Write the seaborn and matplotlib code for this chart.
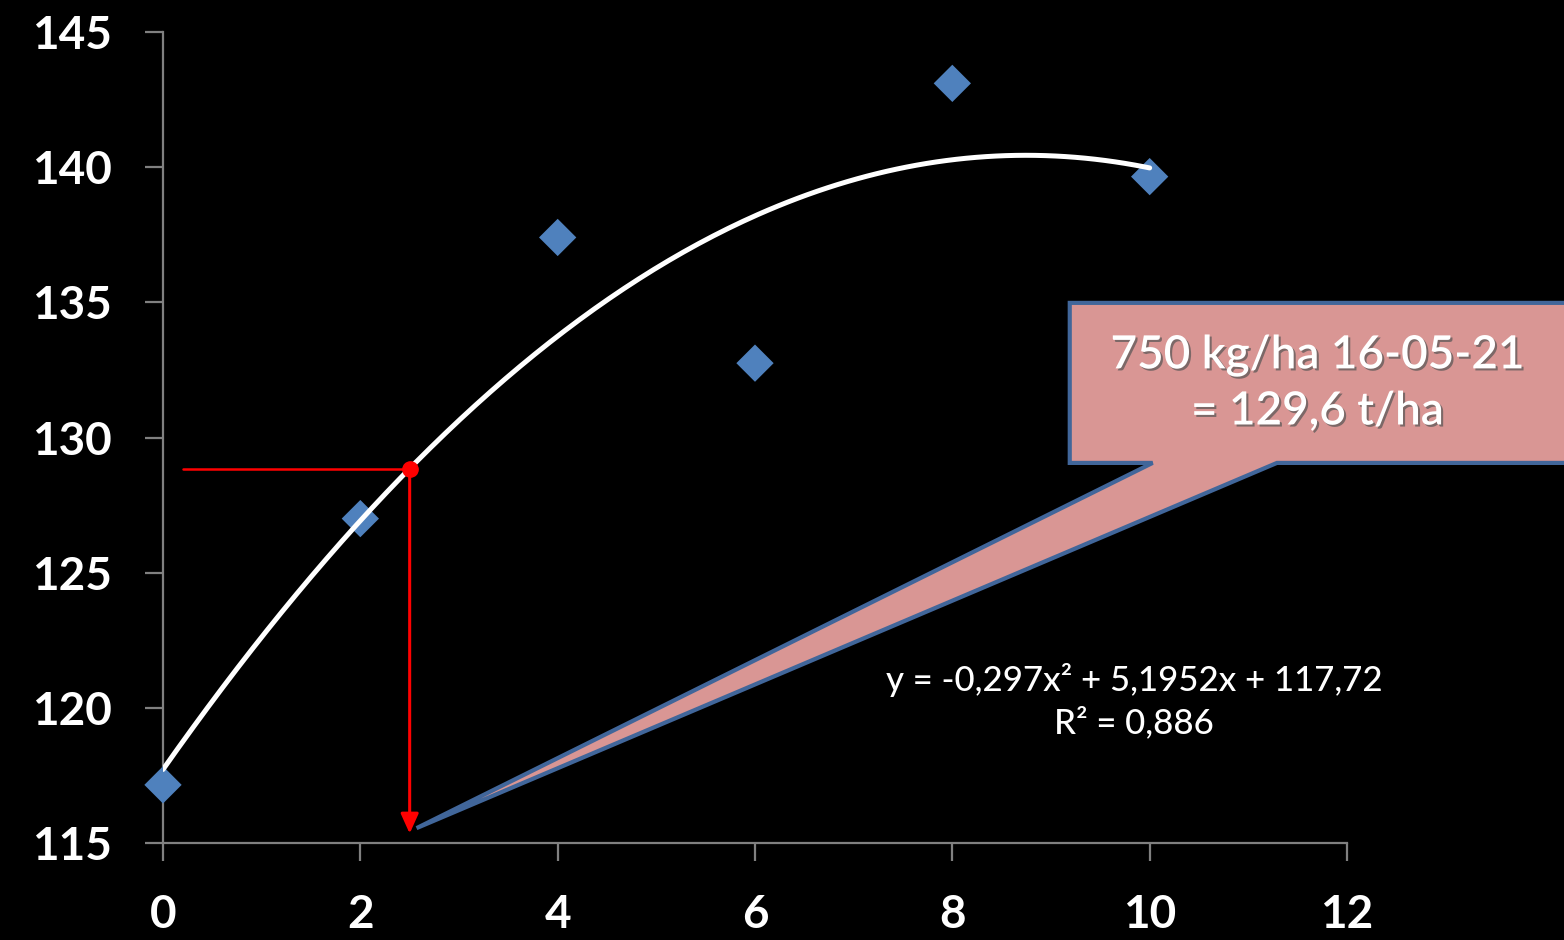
import numpy as np
import pandas as pd
import matplotlib
matplotlib.use('Agg')
import matplotlib.pyplot as plt
import matplotlib.patheffects as pe
from matplotlib.patches import Polygon
import seaborn as sns

# ---------------------
# Dados
# ---------------------
dose = [0, 2, 4, 6, 8, 10]
produtividade = [117.15, 127.0, 137.4, 132.75, 143.1, 139.65]

# coeficientes da linha de tendência (como mostrados no gráfico)
coef = [-0.297, 5.1952, 117.72]
r2 = 0.886
dose_lida = 2.5

x_ticks = [0, 2, 4, 6, 8, 10, 12]
y_ticks = [115, 120, 125, 130, 135, 140, 145]

texto_eq = 'y = -0,297x² + 5,1952x + 117,72\nR² = 0,886'
texto_caixa = '750 kg/ha 16-05-21\n= 129,6 t/ha'

df = pd.DataFrame({'dose': dose, 'prod': produtividade})
x_curva = np.linspace(min(dose), max(dose), 200)
df_curva = pd.DataFrame({'dose': x_curva, 'prod': np.polyval(coef, x_curva)})
y_lida = np.polyval(coef, dose_lida)

# ---------------------
# Estilo
# ---------------------
sns.set_theme(style='dark', rc={
    'figure.facecolor': 'black',
    'axes.facecolor': 'black',
    'axes.edgecolor': '#808080',
    'axes.grid': False,
    'xtick.bottom': True,
    'ytick.left': True,
})
plt.rcParams['font.family'] = ['Lato', 'DejaVu Sans']

fig = plt.figure(figsize=(15.64, 9.40), dpi=100)
ax = fig.add_axes([163 / 1564, 1 - 843 / 940, (1347 - 163) / 1564, (843 - 32) / 940])

sns.scatterplot(data=df, x='dose', y='prod', marker='D', s=361, color='#4F81BD',
                edgecolor='none', ax=ax, zorder=3, clip_on=False)
sns.lineplot(data=df_curva, x='dose', y='prod', color='white', linewidth=3.6,
             ax=ax, zorder=4)

# leitura no ponto de 2,5
ax.plot([0.2, dose_lida], [y_lida, y_lida], color='#FF0000', linewidth=1.8, zorder=5)
ax.annotate('', xy=(dose_lida, 115.35), xytext=(dose_lida, y_lida),
            arrowprops=dict(arrowstyle='-|>,head_width=0.45,head_length=1.0',
                            color='#FF0000', linewidth=2.2, shrinkA=0, shrinkB=0),
            zorder=5)
ax.plot(dose_lida, y_lida, 'o', color='#FF0000', markersize=11, zorder=6)

# caixa de chamada
caixa = Polygon([(9.19, 134.98), (14.5, 134.98), (14.5, 129.06), (11.29, 129.06),
                 (2.57, 115.55), (10.03, 129.06), (9.19, 129.06)],
                closed=True, facecolor='#D99694', edgecolor='#41669A', linewidth=3,
                joinstyle='miter', clip_on=False, zorder=7)
ax.add_patch(caixa)
sombra = [pe.SimplePatchShadow(offset=(1.5, -1.5), shadow_rgbFace='#555555', alpha=0.7),
          pe.Normal()]
ax.text(11.7, 132.0, texto_caixa, color='white', fontsize=33, fontweight='semibold',
        ha='center', va='center', linespacing=1.4, zorder=8, path_effects=sombra)

ax.text(9.84, 120.25, texto_eq, color='white', fontsize=25, fontweight='medium',
        ha='center', va='center', linespacing=1.35, zorder=8)

# eixos
ax.set_xlim(0, 12)
ax.set_ylim(115, 145)
ax.set_xticks(x_ticks)
ax.set_yticks(y_ticks)
ax.set_xlabel('')
ax.set_ylabel('')
for s in ['top', 'right']:
    ax.spines[s].set_visible(False)
for s in ['left', 'bottom']:
    ax.spines[s].set_linewidth(1.6)
ax.tick_params(axis='both', which='major', direction='out', length=13, width=1.6,
               color='#808080', labelcolor='white', labelsize=33,
               bottom=True, left=True)
ax.tick_params(axis='y', pad=24)
ax.tick_params(axis='x', pad=24)
for lbl in ax.get_xticklabels() + ax.get_yticklabels():
    lbl.set_fontweight('bold')

fig.savefig('out.png', dpi=100, facecolor='black')
